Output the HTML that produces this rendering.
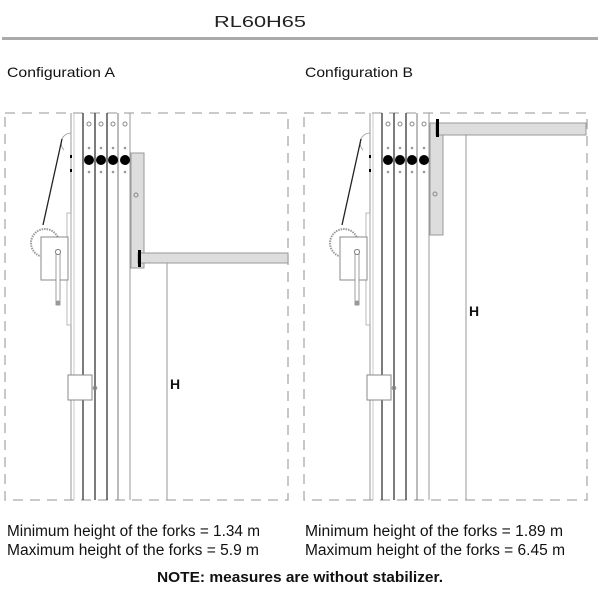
<!DOCTYPE html>
<html><head><meta charset="utf-8"><style>
html,body{margin:0;padding:0;background:#fff;}
svg{display:block;}
text{font-family:"Liberation Sans",sans-serif;}
</style></head><body>
<svg width="600" height="600" viewBox="0 0 600 600" xmlns="http://www.w3.org/2000/svg">
<defs>
<g id="mast">
  <rect x="5" y="113" width="283" height="387" fill="none" stroke="#aaa" stroke-width="1.3" stroke-dasharray="10,7"/>
  <line x1="71" y1="113" x2="71" y2="500" stroke="#999" stroke-width="1"/>
  <line x1="74" y1="113" x2="74" y2="500" stroke="#bbb" stroke-width="0.8"/>
  <line x1="83" y1="113" x2="83" y2="500" stroke="#444" stroke-width="1.4"/>
  <line x1="95" y1="113" x2="95" y2="500" stroke="#444" stroke-width="1.4"/>
  <line x1="107" y1="113" x2="107" y2="500" stroke="#444" stroke-width="1.4"/>
  <line x1="118" y1="113" x2="118" y2="500" stroke="#777" stroke-width="1"/>
  <line x1="130" y1="113" x2="130" y2="500" stroke="#999" stroke-width="1"/>
  <g fill="none" stroke="#888" stroke-width="1">
    <circle cx="89" cy="124" r="2"/><circle cx="101" cy="124" r="2"/><circle cx="113" cy="124" r="2"/><circle cx="125" cy="124" r="2"/>
  </g>
  <g fill="#999">
    <circle cx="89" cy="148" r="1.3"/><circle cx="101" cy="148" r="1.3"/><circle cx="113" cy="148" r="1.3"/><circle cx="125" cy="148" r="1.3"/>
    <circle cx="89" cy="172" r="1.3"/><circle cx="101" cy="172" r="1.3"/><circle cx="113" cy="172" r="1.3"/><circle cx="125" cy="172" r="1.3"/>
  </g>
  <g fill="#000">
    <circle cx="89" cy="160" r="5"/><circle cx="101" cy="160" r="5"/><circle cx="113" cy="160" r="5"/><circle cx="125" cy="160" r="5"/>
  </g>
  <path d="M71 133 A10 10 0 0 0 64 150" fill="none" stroke="#999" stroke-width="0.8"/>
  <line x1="62" y1="139" x2="43" y2="225" stroke="#222" stroke-width="1.3"/>
  <rect x="70" y="155" width="2" height="3" fill="#000"/><rect x="70" y="169" width="2" height="3" fill="#000"/>
  <circle cx="45" cy="243" r="14" fill="none" stroke="#999" stroke-width="2" stroke-dasharray="1.5,1"/>
  <rect x="67" y="213" width="4" height="112" fill="none" stroke="#aaa" stroke-width="0.8"/>
  <rect x="41" y="237" width="27" height="43" fill="#fff" stroke="#888" stroke-width="1"/>
  <rect x="56" y="250" width="4" height="55" fill="#fff" stroke="#888" stroke-width="0.8"/>
  <circle cx="58" cy="252" r="2.5" fill="#fff" stroke="#777"/>
  <circle cx="58" cy="303" r="2.5" fill="#999"/>
  <rect x="68" y="375" width="24" height="25" fill="#fff" stroke="#888" stroke-width="1"/>
  <circle cx="95" cy="388" r="1.8" fill="none" stroke="#888"/>
</g>
</defs>

<text x="260" y="27" font-size="16" text-anchor="middle" fill="#222" textLength="92" lengthAdjust="spacingAndGlyphs">RL60H65</text>
<rect x="2" y="37" width="596" height="3" fill="#aaa"/>
<text x="7" y="77" font-size="14" fill="#111" textLength="108" lengthAdjust="spacingAndGlyphs">Configuration A</text>
<text x="305" y="77" font-size="14" fill="#111" textLength="108" lengthAdjust="spacingAndGlyphs">Configuration B</text>

<use href="#mast"/>
<rect x="131" y="153" width="13" height="115" fill="#ddd" stroke="#999" stroke-width="1"/>
<line x1="167" y1="253" x2="167" y2="500" stroke="#999" stroke-width="1"/>
<rect x="138" y="253" width="150" height="10" fill="#ddd" stroke="#999" stroke-width="1"/>
<rect x="138" y="250" width="3" height="17" fill="#000"/>
<circle cx="136" cy="195" r="2" fill="none" stroke="#888"/>
<text x="170" y="389" font-size="14" font-weight="bold" fill="#111">H</text>

<g transform="translate(299,0)"><use href="#mast"/></g>
<rect x="430" y="123" width="13" height="112" fill="#ddd" stroke="#999" stroke-width="1"/>
<line x1="466" y1="123" x2="466" y2="500" stroke="#999" stroke-width="1"/>
<rect x="436" y="123" width="150" height="12" fill="#ddd" stroke="#999" stroke-width="1"/>
<rect x="436" y="119" width="3" height="18" fill="#000"/>
<circle cx="435" cy="194" r="2" fill="none" stroke="#888"/>
<text x="469" y="316" font-size="14" font-weight="bold" fill="#111">H</text>

<text x="7" y="536" font-size="15.5" fill="#111" textLength="253" lengthAdjust="spacingAndGlyphs">Minimum height of the forks = 1.34 m</text>
<text x="7" y="555" font-size="15.5" fill="#111" textLength="252" lengthAdjust="spacingAndGlyphs">Maximum height of the forks = 5.9 m</text>
<text x="305" y="536" font-size="15.5" fill="#111" textLength="258" lengthAdjust="spacingAndGlyphs">Minimum height of the forks = 1.89 m</text>
<text x="305" y="555" font-size="15.5" fill="#111" textLength="260" lengthAdjust="spacingAndGlyphs">Maximum height of the forks = 6.45 m</text>
<text x="157" y="582" font-size="15" font-weight="bold" fill="#111" textLength="286" lengthAdjust="spacingAndGlyphs">NOTE: measures are without stabilizer.</text>
</svg>
</body></html>
